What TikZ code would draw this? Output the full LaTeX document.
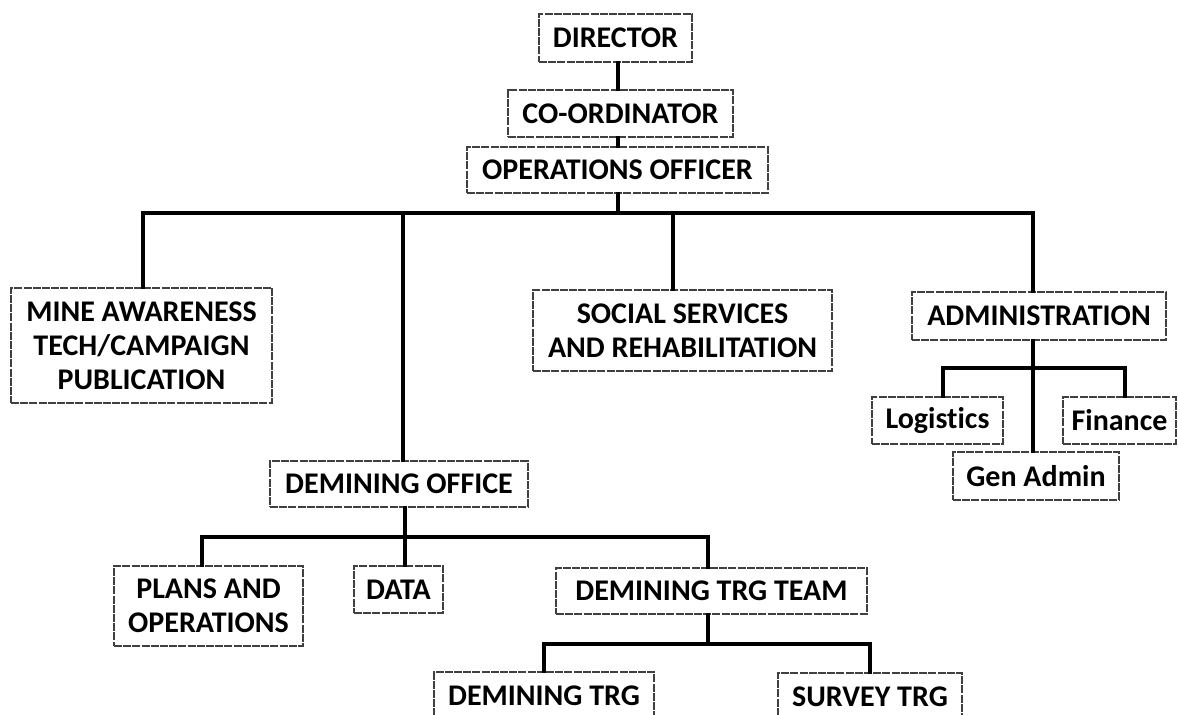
\documentclass[tikz,border=0pt]{standalone}
\usepackage{fontspec}
\setmainfont[Ligatures=NoCommon]{Carlito}
\begin{document}
\begin{tikzpicture}[x=0.5pt,y=-0.5pt,
  box/.style={draw=black!75, line width=0.6pt, dash pattern=on 4pt off 0.6pt,
    rectangle, inner sep=0pt, align=center, fill=white,
    font=\fontsize{15}{17}\selectfont\bfseries},
  conn/.style={draw=black, line width=1.7pt, line cap=rect}]
\clip (0,0) rectangle (1178,715);
\fill[white] (0,0) rectangle (1178,715);

\coordinate (vT) at (618,100);
\coordinate (bL) at (143,213);
\coordinate (bD) at (403,213);
\coordinate (bS) at (673,213);
\coordinate (bR) at (1033,213);
\coordinate (aL) at (943,368);
\coordinate (aR) at (1125,368);
\coordinate (dL) at (202,537);
\coordinate (dM) at (405,537);
\coordinate (dR) at (708,537);
\coordinate (tL) at (544,644);
\coordinate (tR) at (870,644);

\node[box, minimum width=153*0.5pt, minimum height=48*0.5pt] (dir) at (615.5,38) {DIRECTOR};
\node[box, minimum width=225*0.5pt, minimum height=47*0.5pt] (coord) at (620.5,113.5) {CO-ORDINATOR};
\node[box, minimum width=301*0.5pt, minimum height=46*0.5pt] (ops) at (617.5,170) {OPERATIONS OFFICER};
\node[box, minimum width=261*0.5pt, minimum height=115*0.5pt] (mine) at (141.5,345.5) {MINE AWARENESS\\TECH/CAMPAIGN\\PUBLICATION};
\node[box, minimum width=299*0.5pt, minimum height=81*0.5pt] (social) at (682.5,330.5) {SOCIAL SERVICES\\AND REHABILITATION};
\node[box, minimum width=254*0.5pt, minimum height=48*0.5pt] (admin) at (1039,316) {ADMINISTRATION};
\node[box, minimum width=131*0.5pt, minimum height=47*0.5pt] (log) at (937.5,420.5) {Logistics};
\node[box, minimum width=113*0.5pt, minimum height=47*0.5pt] (fin) at (1119.5,420.5) {Finance};
\node[box, minimum width=166*0.5pt, minimum height=48*0.5pt] (gen) at (1036,476) {Gen Admin};
\node[box, minimum width=258*0.5pt, minimum height=46*0.5pt] (demoff) at (399,484) {DEMINING OFFICE};
\node[box, minimum width=189*0.5pt, minimum height=80*0.5pt] (plans) at (208.5,606) {PLANS AND\\OPERATIONS};
\node[box, minimum width=89*0.5pt, minimum height=47*0.5pt] (data) at (398.5,589.5) {DATA};
\node[box, minimum width=311*0.5pt, minimum height=46*0.5pt] (dtt) at (711.5,591) {DEMINING TRG TEAM};
\node[box, minimum width=220*0.5pt, minimum height=48*0.5pt] (dtrg) at (544,696) {DEMINING TRG};
\node[box, minimum width=184*0.5pt, minimum height=48*0.5pt] (surv) at (870,697) {SURVEY TRG};

% connectors
\draw[conn] (vT |- dir.south) -- (vT |- coord.north);
\draw[conn] (vT |- coord.south) -- (vT |- ops.north);
\draw[conn] (vT |- ops.south) -- (vT |- bL);
\draw[conn] (bL |- mine.north) -- (bL) -- (bR) -- (bR |- admin.north);
\draw[conn] (bD) -- (bD |- demoff.north);
\draw[conn] (bS) -- (bS |- social.north);
\draw[conn] (bR |- admin.south) -- (bR |- gen.north);
\draw[conn] (aL |- log.north) -- (aL) -- (aR) -- (aR |- fin.north);
\draw[conn] (dM |- demoff.south) -- (dM |- data.north);
\draw[conn] (dL |- plans.north) -- (dL) -- (dR) -- (dR |- dtt.north);
\draw[conn] (dtt.south -| dR) -- (dR |- tL);
\draw[conn] (tL |- dtrg.north) -- (tL) -- (tR) -- (tR |- surv.north);
\end{tikzpicture}
\end{document}
